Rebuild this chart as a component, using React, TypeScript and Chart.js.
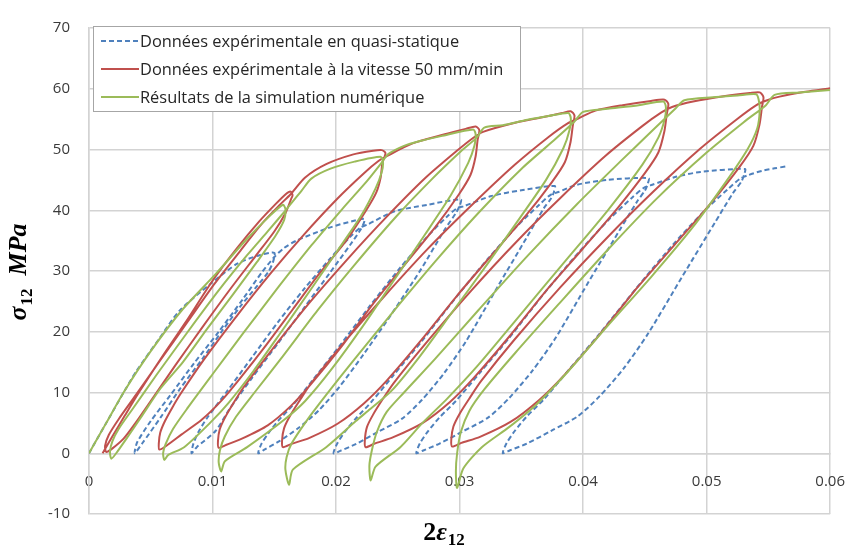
import React, { useEffect, useRef } from 'react';
import { Chart, registerables } from 'chart.js';

Chart.register(...registerables);

const seriesLabels = [
  'Données expérimentale en quasi-statique',
  'Données expérimentale à la vitesse 50 mm/min',
  'Résultats de la simulation numérique',
];
const seriesColors = ['#4f81bd', '#c0504d', '#9bbb59'];

// Quasi-static experiment (strain 2ε12, stress σ12 in MPa)
const quasiStatic: [number, number][] = [
  [0, 0], [0.0014, 5.0], [0.00286, 10.2], [0.0038, 13.4], [0.0057, 18.9], [0.0073, 23.4], [0.0099, 28.0], [0.012, 31.2], [0.0138, 32.6], [0.015, 33.0],
  [0.0149, 31.5], [0.0145, 29.8], [0.0136, 27.5], [0.0123, 24.3], [0.0108, 20.2], [0.0092, 15.6], [0.0074, 10.7], [0.0058, 5.9], [0.0043, 1.6], [0.0037, 0],
  [0.0039, 1.8], [0.005, 5.3], [0.0066, 9.6], [0.0085, 14.8], [0.0105, 20.0], [0.0125, 25.5], [0.014, 29.8], [0.015, 32.3], [0.0158, 33.8],
  [0.0168, 35.0], [0.0194, 37.1], [0.0213, 38.2], [0.0223, 38.6],
  [0.02223, 37.8], [0.02195, 36.7], [0.02118, 34.4], [0.0195, 29.7], [0.0174, 23.9], [0.0153, 18.1], [0.0132, 12.4], [0.01138, 7.3], [0.01026, 3.7], [0.00872, 1.0], [0.0083, 0],
  [0.00844, 1.5], [0.00886, 3.5], [0.00956, 5.8], [0.0111, 10.0], [0.0132, 15.8], [0.0153, 21.6], [0.0174, 27.0], [0.0195, 32.0], [0.02118, 35.7], [0.02202, 37.2],
  [0.0226, 37.7], [0.0247, 39.8], [0.0274, 40.9], [0.0301, 41.8],
  [0.03002, 40.8], [0.02969, 39.5], [0.02879, 36.8], [0.02682, 30.1], [0.02452, 23.0], [0.02223, 16.3], [0.02026, 10.9], [0.01862, 7.1], [0.01698, 4.2], [0.01534, 1.9], [0.01419, 0.6], [0.0137, 0],
  [0.01395, 1.5], [0.01452, 3.3], [0.01534, 5.4], [0.01649, 7.9], [0.01813, 12.1], [0.02026, 17.6], [0.02272, 24.2], [0.02518, 30.5], [0.02731, 35.5], [0.02895, 38.9], [0.02977, 40.3],
  [0.0304, 40.7], [0.0325, 42.3], [0.035, 43.3], [0.0377, 44.0],
  [0.03765, 43.1], [0.03743, 42.0], [0.03681, 40.3], [0.03546, 35.6], [0.03305, 27.3], [0.03054, 18.5], [0.02875, 13.2], [0.02696, 8.8], [0.02535, 5.7], [0.02338, 3.5], [0.02159, 1.5], [0.02034, 0.4], [0.0198, 0],
  [0.02007, 1.5], [0.0207, 3.5], [0.02159, 5.7], [0.02284, 8.4], [0.02463, 12.8], [0.02696, 18.5], [0.02965, 25.5], [0.03233, 32.1], [0.03466, 37.4], [0.03645, 40.9], [0.03734, 42.5],
  [0.038, 43.0], [0.0395, 44.2], [0.042, 45.0], [0.0453, 45.3],
  [0.04524, 44.4], [0.04502, 43.3], [0.04436, 41.4], [0.04295, 36.7], [0.04041, 28.1], [0.03778, 19.0], [0.0359, 13.6], [0.03402, 9.1], [0.03233, 5.9], [0.03026, 3.6], [0.02838, 1.6], [0.02706, 0.45], [0.0265, 0],
  [0.02678, 1.6], [0.02744, 3.6], [0.02838, 5.9], [0.0297, 8.6], [0.03158, 13.1], [0.03402, 19.0], [0.03684, 26.3], [0.03966, 33.1], [0.0421, 38.5], [0.04398, 42.1], [0.04492, 43.7],
  [0.0456, 44.2], [0.0475, 45.5], [0.0495, 46.3], [0.0531, 46.8],
  [0.05304, 45.9], [0.05281, 44.7], [0.05212, 42.8], [0.05065, 37.9], [0.048, 29.0], [0.04526, 19.7], [0.0433, 14.0], [0.04134, 9.4], [0.03958, 6.1], [0.03742, 3.7], [0.03546, 1.6], [0.03409, 0.5], [0.0335, 0],
  [0.03379, 1.6], [0.03448, 3.7], [0.03546, 6.1], [0.03683, 8.9], [0.03879, 13.6], [0.04134, 19.7], [0.04428, 27.1], [0.04722, 34.2], [0.04977, 39.8], [0.05173, 43.5], [0.05271, 45.2],
  [0.0534, 45.8], [0.0545, 46.5], [0.0555, 46.9], [0.0564, 47.2],
];

// Experiment at 50 mm/min
const speed50: [number, number][] = [
  [0.0011, 0], [0.0019, 2.8], [0.0029, 6.2], [0.0041, 10.2], [0.0058, 15.5], [0.0078, 21.5], [0.01, 28.4], [0.012, 33.8], [0.0138, 38.2], [0.0151, 41.0], [0.0159, 42.6], [0.0163, 43.1],
  [0.01648, 42.5], [0.01635, 41.8], [0.0159, 39.5], [0.015, 36.5], [0.0135, 32.5], [0.0115, 27.2], [0.0092, 20.8], [0.007, 14.5], [0.005, 8.6], [0.0037, 4.8], [0.0028, 2.4], [0.0019, 0.8], [0.0014, 0.2],
  [0.0013, 1.2], [0.0016, 3.0], [0.0024, 5.6], [0.0038, 9.6], [0.0058, 15.4], [0.008, 21.7], [0.0102, 28.0], [0.0122, 33.2], [0.014, 37.8], [0.0155, 41.0], [0.0163, 42.6],
  [0.0175, 45.4], [0.0192, 47.6], [0.0214, 49.2], [0.023, 49.8], [0.0237, 49.9],
  [0.024, 49.4], [0.02375, 47.8], [0.02361, 45.4], [0.02325, 42.9], [0.02244, 40.0], [0.02082, 35.0], [0.01866, 29.6], [0.0165, 23.7], [0.01434, 17.8], [0.01218, 12.2], [0.01074, 8.7], [0.00912, 5.5], [0.0075, 3.1], [0.00624, 1.2], [0.0057, 0.6],
  [0.00565, 1.6], [0.00577, 3.4], [0.00615, 5.3], [0.00674, 7.5], [0.00739, 9.7], [0.0093, 15.4], [0.012, 22.7], [0.0147, 29.6], [0.0174, 36.0], [0.0201, 41.9], [0.02226, 46.1], [0.02343, 48.1],
  [0.0241, 48.9], [0.0262, 51.0], [0.0288, 52.5], [0.0305, 53.4], [0.0313, 53.8],
  [0.0316, 53.2], [0.03146, 51.6], [0.0313, 48.9], [0.03088, 45.8], [0.02994, 42.6], [0.02806, 37.3], [0.02555, 31.0], [0.02304, 24.7], [0.02053, 17.8], [0.01802, 11.5], [0.01635, 7.8], [0.01447, 4.6], [0.01238, 2.4], [0.01113, 1.4], [0.0105, 0.9],
  [0.01044, 2.0], [0.01058, 3.9], [0.01102, 5.9], [0.01171, 8.3], [0.01246, 10.7], [0.01468, 16.7], [0.01782, 24.7], [0.02095, 32.0], [0.02409, 38.9], [0.02722, 45.3], [0.02973, 49.7], [0.03109, 51.9],
  [0.0319, 52.9], [0.0345, 54.4], [0.0367, 55.3], [0.0383, 56.0], [0.039, 56.3],
  [0.0393, 55.6], [0.03917, 54.0], [0.03898, 51.2], [0.03852, 47.9], [0.03746, 44.6], [0.03536, 39.1], [0.03255, 32.5], [0.02974, 25.8], [0.02693, 18.7], [0.02412, 12.0], [0.02225, 8.2], [0.02015, 4.9], [0.01781, 2.5], [0.0164, 1.55], [0.0157, 1.0],
  [0.01563, 2.1], [0.01579, 4.1], [0.01629, 6.2], [0.01706, 8.7], [0.0179, 11.3], [0.02038, 17.6], [0.02389, 25.8], [0.0274, 33.6], [0.03091, 40.7], [0.03442, 47.4], [0.03723, 52.1], [0.03875, 54.3],
  [0.0396, 55.1], [0.041, 56.4], [0.0432, 57.3], [0.0455, 58.0], [0.0466, 58.2],
  [0.0469, 57.5], [0.04677, 55.8], [0.04658, 53.0], [0.04609, 49.5], [0.045, 46.1], [0.04281, 40.4], [0.0399, 33.5], [0.03698, 26.7], [0.03406, 19.3], [0.03115, 12.4], [0.0292, 8.4], [0.02702, 5.0], [0.02459, 2.6], [0.02313, 1.6], [0.0224, 1.0],
  [0.02233, 2.1], [0.0225, 4.3], [0.02301, 6.4], [0.02381, 9.0], [0.02468, 11.6], [0.02726, 18.1], [0.03091, 26.7], [0.03455, 34.7], [0.0382, 42.1], [0.04184, 49.0], [0.04476, 53.8], [0.04634, 56.1],
  [0.0472, 57.0], [0.0489, 57.9], [0.0515, 58.8], [0.0535, 59.3], [0.0543, 59.4],
  [0.0546, 58.6], [0.05448, 57.0], [0.05428, 54.1], [0.05378, 50.6], [0.05265, 47.1], [0.0504, 41.3], [0.0474, 34.3], [0.0444, 27.3], [0.0414, 19.7], [0.0384, 12.7], [0.0364, 8.7], [0.03415, 5.2], [0.03165, 2.7], [0.03015, 1.7], [0.0294, 1.1],
  [0.02933, 2.3], [0.0295, 4.4], [0.03003, 6.6], [0.03085, 9.2], [0.03175, 11.9], [0.0344, 18.6], [0.03815, 27.3], [0.0419, 35.4], [0.04565, 43.0], [0.0494, 50.0], [0.0524, 54.9], [0.05403, 57.3],
  [0.0549, 58.1], [0.0559, 58.7], [0.058, 59.5], [0.06, 60.1],
];

// Numerical simulation
const simulation: [number, number][] = [
  [0, 0], [0.0014, 5.0], [0.00286, 10.2], [0.005, 16.8], [0.0075, 23.5], [0.0103, 29.6], [0.0128, 35.3], [0.0147, 39.2], [0.0157, 40.9],
  [0.0159, 40.2], [0.0158, 38.4], [0.0151, 35.8], [0.0136, 31.5], [0.0116, 26.0], [0.0095, 20.3], [0.0076, 15.0], [0.0058, 10.7], [0.0042, 5.9], [0.0031, 2.6], [0.0022, 0.0], [0.0018, -0.9],
  [0.0017, 0.3], [0.0019, 2.0], [0.0024, 4.0], [0.0035, 7.2], [0.0055, 13.0], [0.008, 20.0], [0.0105, 26.8], [0.0128, 32.6], [0.0145, 36.6], [0.016, 40.2], [0.0172, 43.2], [0.018, 45.2],
  [0.0195, 46.8], [0.0215, 48.0], [0.0236, 48.8],
  [0.0238, 48.0], [0.0237, 46.3], [0.0232, 43.6], [0.022, 39.0], [0.02, 33.0], [0.0178, 26.5], [0.0155, 19.8], [0.0133, 13.5], [0.0113, 8.3], [0.0098, 5.0], [0.0077, 1.0], [0.0064, -0.3], [0.0061, -1.1],
  [0.006, 0.0], [0.0062, 1.5], [0.0068, 4.0], [0.008, 7.5], [0.01, 13.0], [0.0125, 19.8], [0.0152, 27.0], [0.018, 34.2], [0.0205, 40.2], [0.0225, 44.8], [0.0236, 47.6], [0.0242, 49.2],
  [0.0255, 50.6], [0.0268, 51.4], [0.0285, 52.2], [0.0311, 53.3],
  [0.0313, 52.5], [0.0312, 50.6], [0.0307, 47.8], [0.0293, 42.5], [0.0272, 36.0], [0.0248, 28.8], [0.0222, 21.0], [0.0197, 14.0], [0.0175, 8.6], [0.0158, 5.5], [0.0128, 1.0], [0.011, -1.3], [0.0107, -3.0],
  [0.0105, -1.5], [0.0106, 0.5], [0.011, 2.8], [0.0119, 6.0], [0.0134, 10.0], [0.0157, 16.0], [0.0185, 23.5], [0.0215, 31.0], [0.0248, 38.8], [0.0278, 45.2], [0.03, 49.5], [0.0314, 52.0], [0.032, 53.6],
  [0.0335, 54.0], [0.0355, 54.9], [0.0372, 55.5], [0.0388, 56.0],
  [0.039, 55.2], [0.0389, 53.2], [0.0384, 50.2], [0.037, 45.0], [0.0348, 38.5], [0.0322, 31.0], [0.0295, 23.5], [0.0268, 16.0], [0.0245, 10.3], [0.0226, 7.0], [0.0216, 5.3], [0.0192, 1.0], [0.0165, -2.7], [0.0162, -5.2],
  [0.0159, -2.7], [0.016, -0.6], [0.0164, 1.6], [0.0176, 5.3], [0.0192, 9.6], [0.0215, 15.5], [0.0245, 23.0], [0.028, 31.5], [0.0315, 39.5], [0.035, 46.8], [0.0378, 51.8], [0.0393, 54.6], [0.04, 56.2],
  [0.042, 56.7], [0.0445, 57.3], [0.0465, 57.9],
  [0.0467, 57.0], [0.0466, 55.0], [0.0461, 52.0], [0.0448, 47.5], [0.042, 40.0], [0.0385, 31.5], [0.035, 23.0], [0.0315, 14.5], [0.029, 9.0], [0.027, 5.0], [0.0252, 1.0], [0.0232, -2.2], [0.0228, -4.5],
  [0.0227, -2.0], [0.0229, 0.5], [0.0233, 3.5], [0.0241, 6.8], [0.0255, 10.0], [0.028, 15.5], [0.0315, 23.5], [0.0355, 32.5], [0.0395, 41.0], [0.043, 48.0], [0.0458, 53.5], [0.0475, 56.8], [0.0482, 58.1],
  [0.0505, 58.6], [0.0525, 58.9], [0.054, 59.1],
  [0.0542, 58.3], [0.0543, 56.5], [0.0541, 53.5], [0.0533, 50.0], [0.0515, 44.5], [0.0488, 37.0], [0.0455, 29.0], [0.042, 21.0], [0.0388, 13.5], [0.0362, 8.0], [0.034, 4.3], [0.0318, 1.0], [0.0303, -2.5], [0.0298, -5.7],
  [0.0297, -3.0], [0.0298, 0.0], [0.0301, 3.5], [0.0308, 7.0], [0.032, 10.5], [0.0345, 16.5], [0.038, 24.5], [0.042, 33.5], [0.046, 42.0], [0.05, 49.5], [0.053, 54.5], [0.0548, 57.3], [0.0555, 59.0],
  [0.0575, 59.4], [0.06, 59.8],
];

const seriesData = [quasiStatic, speed50, simulation];

const toXY = (pts: [number, number][]) => pts.map(([x, y]) => ({ x, y }));

const decorPlugin = {
  id: 'decor',
  afterDatasetsDraw(chart: any) {
    const ctx = chart.ctx as CanvasRenderingContext2D;
    ctx.save();
    ctx.fillStyle = '#ffffff';
    ctx.fillRect(93.5, 26.5, 427, 85);
    ctx.strokeStyle = '#a6a6a6';
    ctx.lineWidth = 1;
    ctx.strokeRect(93.5, 26.5, 427, 85);
    const rows = [41, 69, 97];
    chart.data.datasets.forEach((ds: any, i: number) => {
      const y = rows[i];
      ctx.beginPath();
      ctx.strokeStyle = ds.borderColor;
      ctx.lineWidth = 2;
      ctx.setLineDash(ds.borderDash || []);
      ctx.moveTo(101, y);
      ctx.lineTo(139, y);
      ctx.stroke();
      ctx.setLineDash([]);
      ctx.fillStyle = '#262626';
      ctx.font = '16.4px "Open Sans"';
      ctx.textBaseline = 'middle';
      ctx.textAlign = 'left';
      ctx.fillText(ds.label, 140, y + 1);
    });
    ctx.restore();
  },
  afterDraw(chart: any) {
    const ctx = chart.ctx as CanvasRenderingContext2D;
    ctx.save();
    ctx.fillStyle = '#000000';
    ctx.textBaseline = 'alphabetic';
    ctx.textAlign = 'left';
    // x title: 2ε12
    const big = 'bold 26px "Liberation Serif"';
    const bigIt = 'bold italic 26px "Liberation Serif"';
    const sub = 'bold 17px "Liberation Serif"';
    ctx.font = big;
    const w2 = ctx.measureText('2').width;
    ctx.font = bigIt;
    const wE = ctx.measureText('ε').width;
    ctx.font = sub;
    const w12 = ctx.measureText('12').width;
    const x0 = 444 - (w2 + wE + 1 + w12) / 2;
    ctx.font = big;
    ctx.fillText('2', x0, 540);
    ctx.font = bigIt;
    ctx.fillText('ε', x0 + w2, 540);
    ctx.font = sub;
    ctx.fillText('12', x0 + w2 + wE + 1, 545);
    // y title: σ12 MPa
    ctx.translate(26, 272);
    ctx.rotate(-Math.PI / 2);
    ctx.font = bigIt;
    const wS = ctx.measureText('σ').width;
    const wM = ctx.measureText('MPa').width;
    const gap = 13;
    const total = wS + 1 + w12 + gap + wM;
    const s = -total / 2;
    ctx.fillText('σ', s, 0);
    ctx.font = sub;
    ctx.fillText('12', s + wS + 1, 6);
    ctx.font = bigIt;
    ctx.fillText('MPa', s + wS + 1 + w12 + gap, 0);
    ctx.restore();
  },
};

export default function App() {
  const canvasRef = useRef<HTMLCanvasElement | null>(null);

  useEffect(() => {
    document.body.style.margin = '0';
    const canvas = canvasRef.current;
    if (!canvas) return;
    const gridColor = '#d3d3d3';
    const chart = new Chart(canvas, {
      type: 'scatter',
      data: {
        datasets: seriesData.map((pts, i) => ({
          label: seriesLabels[i],
          data: toXY(pts),
          showLine: true,
          borderColor: seriesColors[i],
          backgroundColor: seriesColors[i],
          borderWidth: 2,
          borderDash: i === 0 ? [5, 3] : [],
          pointRadius: 0,
          pointHoverRadius: 0,
          tension: 0.25,
          order: 2 - i,
        })),
      },
      options: {
        animation: false,
        responsive: false,
        maintainAspectRatio: false,
        events: [],
        layout: { padding: { left: 0, right: 21, top: 21, bottom: 33 } },
        plugins: {
          legend: { display: false },
          tooltip: { enabled: false },
        },
        scales: {
          x: {
            type: 'linear',
            position: { y: 0 } as any,
            min: 0,
            max: 0.06,
            ticks: {
              stepSize: 0.01,
              padding: 19,
              color: '#3a3a3a',
              font: { family: 'Open Sans', size: 15 },
              callback: (v: any) => (Number(v) === 0 ? '0' : Number(v).toFixed(2)),
            },
            grid: { color: gridColor, lineWidth: 1.5, drawTicks: false },
            border: { color: gridColor, width: 1.5 },
            afterFit: (s: any) => {
              s.height = 0;
            },
          },
          y: {
            type: 'linear',
            position: 'left',
            min: -10,
            max: 70,
            ticks: {
              stepSize: 10,
              padding: 19,
              color: '#3a3a3a',
              font: { family: 'Open Sans', size: 15 },
            },
            grid: { color: gridColor, lineWidth: 1.5, drawTicks: false },
            border: { color: gridColor, width: 1.5 },
            afterFit: (s: any) => {
              s.width = 89;
            },
          },
        },
      },
      plugins: [decorPlugin],
    });
    return () => chart.destroy();
  }, []);

  return (
    <div style={{ width: 864, height: 547, position: 'relative', background: '#ffffff' }}>
      <canvas ref={canvasRef} width={864} height={547} style={{ display: 'block' }} />
    </div>
  );
}
